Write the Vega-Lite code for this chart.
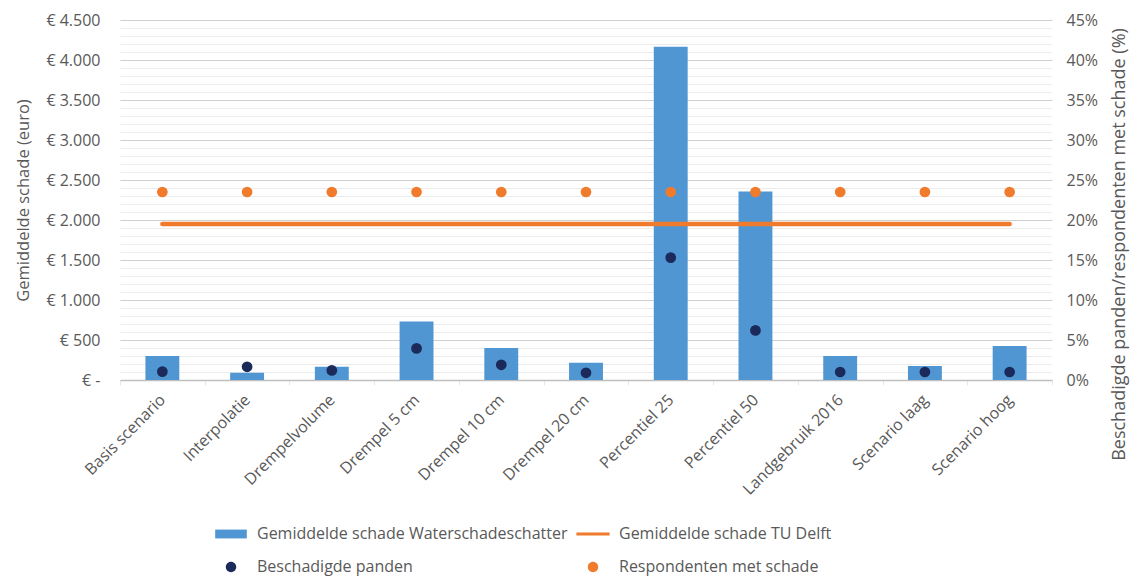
{
  "$schema": "https://vega.github.io/schema/vega-lite/v6.json",
  "autosize": "none",
  "width": 932,
  "height": 360,
  "padding": {"left": 120, "top": 20, "right": 78, "bottom": 197},
  "background": "white",
  "config": {
    "view": {"stroke": null},
    "font": "Open Sans",
    "axis": {"labelFont": "Open Sans", "labelFontSize": 16, "labelColor": "#595959", "titleFont": "Open Sans", "titleFontSize": 16.5, "titleFontWeight": "normal", "titleColor": "#595959"},
    "legend": {"labelFont": "Open Sans", "labelFontSize": 16, "labelColor": "#595959", "labelLimit": 0}
  },
  "data": {
    "values": [
      {"scenario": "Basis scenario", "wss": 300, "tud": 1950, "panden": 1.05, "resp": 23.5},
      {"scenario": "Interpolatie", "wss": 90, "tud": 1950, "panden": 1.65, "resp": 23.5},
      {"scenario": "Drempelvolume", "wss": 165, "tud": 1950, "panden": 1.2, "resp": 23.5},
      {"scenario": "Drempel 5 cm", "wss": 730, "tud": 1950, "panden": 3.95, "resp": 23.5},
      {"scenario": "Drempel 10 cm", "wss": 400, "tud": 1950, "panden": 1.9, "resp": 23.5},
      {"scenario": "Drempel 20 cm", "wss": 215, "tud": 1950, "panden": 0.9, "resp": 23.5},
      {"scenario": "Percentiel 25", "wss": 4165, "tud": 1950, "panden": 15.3, "resp": 23.5},
      {"scenario": "Percentiel 50", "wss": 2355, "tud": 1950, "panden": 6.2, "resp": 23.5},
      {"scenario": "Landgebruik 2016", "wss": 300, "tud": 1950, "panden": 1.0, "resp": 23.5},
      {"scenario": "Scenario laag", "wss": 175, "tud": 1950, "panden": 1.0, "resp": 23.5},
      {"scenario": "Scenario hoog", "wss": 425, "tud": 1950, "panden": 1.0, "resp": 23.5}
    ]
  },
  "encoding": {
    "x": {
      "field": "scenario", "type": "nominal", "sort": null,
      "scale": {"paddingInner": 0, "paddingOuter": 0},
      "axis": {"title": null, "labelAngle": -45, "labelAlign": "right", "labelBaseline": "middle", "labelPadding": 12, "domainColor": "#bfbfbf", "domainWidth": 1.5, "tickColor": "#e8e8e8", "tickSize": 5, "tickBand": "extent", "grid": false, "labelOverlap": false}
    }
  },
  "layer": [
    {
      "layer": [
        {
          "mark": {"type": "bar", "width": {"band": 0.4}},
          "encoding": {
            "y": {
              "field": "wss", "type": "quantitative",
              "scale": {"domain": [0, 4500], "nice": false},
              "axis": {
                "title": "Gemiddelde schade (euro)",
                "titlePadding": 14,
                "values": [0,100,200,300,400,500,600,700,800,900,1000,1100,1200,1300,1400,1500,1600,1700,1800,1900,2000,2100,2200,2300,2400,2500,2600,2700,2800,2900,3000,3100,3200,3300,3400,3500,3600,3700,3800,3900,4000,4100,4200,4300,4400,4500],
                "labelExpr": "datum.value % 500 !== 0 ? '' : (datum.value === 0 ? '€ -\u00a0\u00a0\u00a0' : '€ ' + replace(format(datum.value, ','), ',', '.'))",
                "labelOverlap": false,
                "labelPadding": 20,
                "ticks": false,
                "domain": false,
                "grid": true,
                "gridColor": {"condition": {"test": "datum.value % 500 === 0", "value": "#d0d0d0"}, "value": "#ececec"},
                "gridWidth": 1.2
              }
            },
            "color": {"datum": "Gemiddelde schade Waterschadeschatter", "type": "nominal",
              "scale": {"domain": ["Gemiddelde schade Waterschadeschatter", "Gemiddelde schade TU Delft", "Beschadigde panden", "Respondenten met schade"], "range": ["#4f96d2", "#f07b2c", "#1b2a5a", "#f07b2c"]},
              "legend": {
                "title": null, "orient": "none", "legendX": 95, "legendY": 498, "columns": 2, "direction": "horizontal",
                "symbolSize": 1000, "labelOffset": 10, "columnPadding": 8, "rowPadding": 9, "labelLimit": 0,
                "encode": {
                  "symbols": {
                    "update": {
                      "shape": {"signal": "datum.value === 'Gemiddelde schade Waterschadeschatter' ? 'M-1,-0.28H1V0.28H-1Z' : (datum.value === 'Gemiddelde schade TU Delft' ? 'M-1.05,-0.09H1.05V0.09H-1.05Z' : 'M0.33,0A0.33,0.33,0,1,1,-0.33,0A0.33,0.33,0,1,1,0.33,0Z')"},
                      "size": {"value": 1000},
                      "fill": {"scale": "color", "field": "value"},
                      "fillOpacity": {"value": 1},
                      "opacity": {"value": 1},
                      "strokeWidth": {"value": 0}
                    }
                  }
                }
              }
            }
          }
        },
        {
          "mark": {"type": "line", "strokeWidth": 4.5, "strokeCap": "round"},
          "encoding": {
            "y": {
              "field": "tud", "type": "quantitative",
              "scale": {"domain": [0, 4500], "nice": false},
              "axis": {
                "title": "Gemiddelde schade (euro)",
                "titlePadding": 14,
                "values": [0,100,200,300,400,500,600,700,800,900,1000,1100,1200,1300,1400,1500,1600,1700,1800,1900,2000,2100,2200,2300,2400,2500,2600,2700,2800,2900,3000,3100,3200,3300,3400,3500,3600,3700,3800,3900,4000,4100,4200,4300,4400,4500],
                "labelExpr": "datum.value % 500 !== 0 ? '' : (datum.value === 0 ? '€ -\u00a0\u00a0\u00a0' : '€ ' + replace(format(datum.value, ','), ',', '.'))",
                "labelOverlap": false,
                "labelPadding": 20,
                "ticks": false,
                "domain": false,
                "grid": true,
                "gridColor": {"condition": {"test": "datum.value % 500 === 0", "value": "#d0d0d0"}, "value": "#ececec"},
                "gridWidth": 1.2
              }
            },
            "color": {"datum": "Gemiddelde schade TU Delft", "type": "nominal"}
          }
        }
      ]
    },
    {
      "layer": [
        {
          "mark": {"type": "point", "filled": true, "size": 115, "opacity": 1},
          "encoding": {
            "y": {
              "field": "panden", "type": "quantitative",
              "scale": {"domain": [0, 45], "nice": false},
              "axis": {
                "orient": "right",
                "title": "Beschadigde panden/respondenten met schade (%)",
                "titleAngle": -90,
                "titleBaseline": "top",
                "titleFontSize": 18,
                "titlePadding": 13,
                "titleY": 224,
                "values": [0,5,10,15,20,25,30,35,40,45],
                "labelExpr": "datum.value + '%'",
                "labelOverlap": false,
                "labelPadding": 14,
                "ticks": false,
                "domain": false,
                "grid": false
              }
            },
            "color": {"datum": "Beschadigde panden", "type": "nominal"}
          }
        },
        {
          "mark": {"type": "point", "filled": true, "size": 115, "opacity": 1},
          "encoding": {
            "y": {
              "field": "resp", "type": "quantitative",
              "scale": {"domain": [0, 45], "nice": false},
              "axis": {
                "orient": "right",
                "title": "Beschadigde panden/respondenten met schade (%)",
                "titleAngle": -90,
                "titleBaseline": "top",
                "titleFontSize": 18,
                "titlePadding": 13,
                "titleY": 224,
                "values": [0,5,10,15,20,25,30,35,40,45],
                "labelExpr": "datum.value + '%'",
                "labelOverlap": false,
                "labelPadding": 14,
                "ticks": false,
                "domain": false,
                "grid": false
              }
            },
            "color": {"datum": "Respondenten met schade", "type": "nominal"}
          }
        }
      ]
    }
  ],
  "resolve": {"scale": {"y": "independent"}}
}
